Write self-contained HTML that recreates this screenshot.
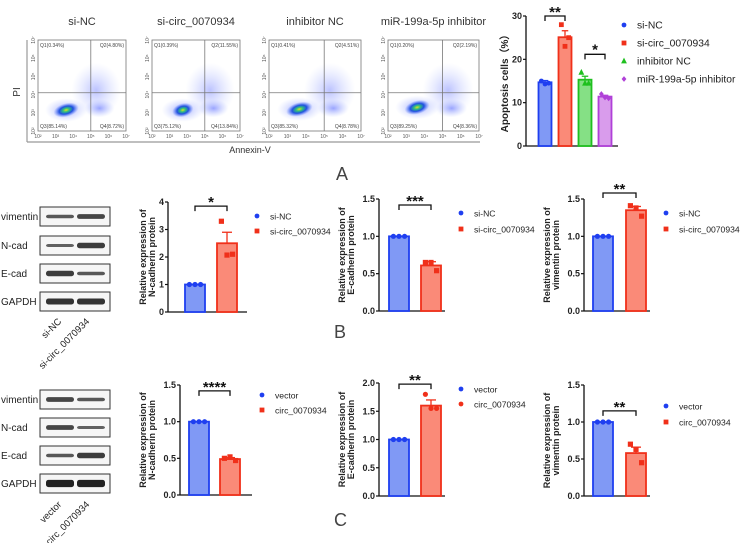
<!DOCTYPE html>
<html><head><meta charset="utf-8">
<style>
html,body{margin:0;padding:0;background:#fff;}
svg{display:block;font-family:"Liberation Sans",Arial,sans-serif;}
.tk{font-size:9px;font-weight:bold;fill:#222;}
.yt{font-size:9px;font-weight:bold;fill:#222;}
.lg{font-size:8.6px;fill:#222;}
.lga{font-size:10.3px;fill:#222;}
.ft{font-size:11px;fill:#333;}
.wb{font-size:10px;fill:#222;}
.pl{font-size:18px;fill:#444;font-weight:300;}
</style></head>
<body>
<svg id="fig" width="742" height="543" viewBox="0 0 742 543">
<defs>
<radialGradient id="blob" cx="50%" cy="50%" r="50%">
<stop offset="0" stop-color="#e0e020"/><stop offset="0.25" stop-color="#30c080"/><stop offset="0.55" stop-color="#2050e0"/><stop offset="1" stop-color="#6080ff" stop-opacity="0"/>
</radialGradient>
<radialGradient id="halo" cx="50%" cy="50%" r="50%">
<stop offset="0" stop-color="#6070ff" stop-opacity="0.6"/><stop offset="1" stop-color="#a0b0ff" stop-opacity="0"/>
</radialGradient>
</defs>
<g id="flow"></g>
<g id="blots"></g>
<g id="charts"></g>
<text class="pl" x="336" y="180">A</text>
<text class="pl" x="334" y="338">B</text>
<text class="pl" x="334" y="526">C</text>
</svg>
<script>
// ---- data ----
const apoCategories = ["si-NC","si-circ_0070934","inhibitor NC","miR-199a-5p inhibitor"];
const apoMeans = [14.7, 25.1, 15.3, 11.4];
const apoErrors = [0.4, 1.5, 0.8, 0.3];
const apoPoints = [[15.0,14.3,14.5],[28.0,23.0,25.0],[17.0,14.5,14.5],[12.0,11.2,11.0]];
const apoTicks = [0,10,20,30];

const bNcadMeans = [1.0, 2.5];
const bNcadErrors = [0.0, 0.4];
const bNcadPoints = [[1.0,1.0,1.0],[3.3,2.07,2.1]];
const bNcadTicks = [0,1,2,3,4];

const bEcadMeans = [1.0, 0.61];
const bEcadErrors = [0.0, 0.05];
const bEcadPoints = [[1.0,1.0,1.0],[0.65,0.65,0.54]];
const bEcadTicks = [0.0,0.5,1.0,1.5];

const bVimMeans = [1.0, 1.35];
const bVimErrors = [0.0, 0.05];
const bVimPoints = [[1.0,1.0,1.0],[1.41,1.38,1.27]];
const bVimTicks = [0.0,0.5,1.0,1.5];

const cNcadMeans = [1.0, 0.49];
const cNcadErrors = [0.0, 0.02];
const cNcadPoints = [[1.0,1.0,1.0],[0.5,0.52,0.47]];
const cNcadTicks = [0.0,0.5,1.0,1.5];

const cEcadMeans = [1.0, 1.6];
const cEcadErrors = [0.0, 0.1];
const cEcadPoints = [[1.0,1.0,1.0],[1.8,1.55,1.55]];
const cEcadTicks = [0.0,0.5,1.0,1.5,2.0];

const cVimMeans = [1.0, 0.58];
const cVimErrors = [0.0, 0.08];
const cVimPoints = [[1.0,1.0,1.0],[0.7,0.63,0.45]];
const cVimTicks = [0.0,0.5,1.0,1.5];

const flowTitles = ["si-NC","si-circ_0070934","inhibitor NC","miR-199a-5p inhibitor"];
const flowQ1 = ["Q1(0.34%)","Q1(0.39%)","Q1(0.41%)","Q1(0.20%)"];
const flowQ2 = ["Q2(4.80%)","Q2(11.55%)","Q2(4.51%)","Q2(2.19%)"];
const flowQ3 = ["Q3(85.14%)","Q3(75.12%)","Q3(85.32%)","Q3(89.25%)"];
const flowQ4 = ["Q4(8.72%)","Q4(13.84%)","Q4(8.78%)","Q4(8.36%)"];
const blotRows = ["vimentin","N-cad","E-cad","GAPDH"];

// ---- helpers ----
const NS="http://www.w3.org/2000/svg";
function mk(parent,tag,attrs,text){const e=document.createElementNS(NS,tag);for(const k in attrs)e.setAttribute(k,attrs[k]);if(text!==undefined)e.textContent=text;parent.appendChild(e);return e;}
const COL={blue:["#8099f5","#1f3ff0"],red:["#fa8a78","#f0301a"],green:["#85e085","#1fc01f"],purple:["#d99cec","#b040d8"]};

function marker(g,shape,x,y,c,s){
  if(shape==="circle") return mk(g,"circle",{cx:x,cy:y,r:s,fill:c});
  if(shape==="square") return mk(g,"rect",{x:x-s,y:y-s,width:2*s,height:2*s,fill:c});
  if(shape==="tri") return mk(g,"polygon",{points:`${x},${y-s-1} ${x-s-0.5},${y+s} ${x+s+0.5},${y+s}`,fill:c});
  if(shape==="diamond") return mk(g,"polygon",{points:`${x},${y-s-0.5} ${x+s},${y} ${x},${y+s+0.5} ${x-s},${y}`,fill:c});
}

function barChart(o){
  const root=document.getElementById("charts");
  const g=mk(root,"g",{});
  
  
  const tmax=o.ticks[o.ticks.length-1];
  const yS=v=>o.y0-(v/tmax)*(o.y0-o.yTop);
  const ax=mk(g,"line",{x1:o.ax,y1:o.yTop,x2:o.ax,y2:o.y0+0.5,stroke:"#111","stroke-width":1.3});
  
  
  const bl=mk(g,"line",{x1:o.ax,y1:o.y0,x2:o.axEnd,y2:o.y0,stroke:"#111","stroke-width":1.3});
  
  
  o.ticks.forEach(t=>{
    const y=yS(t);
    mk(g,"line",{x1:o.ax-3,y1:y,x2:o.ax,y2:y,stroke:"#111","stroke-width":1.2});
    const tl=mk(g,"text",{x:o.ax-4,y:y+3,"text-anchor":"end",class:"tk"},o.fmt?t.toFixed(1):String(t));
    
    
  });
  const tt=mk(g,"text",{transform:`translate(${o.tx},${(o.yTop+o.y0)/2}) rotate(-90)`,"text-anchor":"middle",class:"yt"});
  if(o.tfs) tt.setAttribute("style","font-size:"+o.tfs+"px");
  
  
  o.title.forEach((ln,i)=>mk(tt,"tspan",{x:0,dy:i===0?0:9},ln));
  o.means.forEach((m,i)=>{
    const cx=o.bx[i], [f,s]=COL[o.colors[i]];
    const top=yS(m);
    const b=mk(g,"rect",{x:cx-o.bw/2,y:top,width:o.bw,height:o.y0-top,fill:f,stroke:s,"stroke-width":1.8});
    
    
    const e=o.errs[i];
    if(e>0){
      const ey=yS(m+e);
      mk(g,"line",{x1:cx,y1:top,x2:cx,y2:ey,stroke:s,"stroke-width":1.3});
      mk(g,"line",{x1:cx-o.bw/4,y1:ey,x2:cx+o.bw/4,y2:ey,stroke:s,"stroke-width":1.3});
    }
    o.pts[i].forEach((p,j)=>{
      const pm=marker(g,o.shapes[i],cx+(j-1)*o.bw*0.28,yS(p),s,o.ms||2.6);
      
      
    });
  });
  const [a,b2]=o.sig.pair;
  const by=yS(o.sig.level);
  const br=mk(g,"path",{d:`M${o.bx[a]},${by+5} V${by} H${o.bx[b2]} V${by+5}`,fill:"none",stroke:"#111","stroke-width":1.3});
  
  
  const st=mk(g,"text",{x:(o.bx[a]+o.bx[b2])/2,y:by+1,"text-anchor":"middle","font-size":"15px","font-weight":"bold",fill:"#111"},o.sig.label);
  
  
  o.cats.forEach((c,i)=>{
    const ly=o.ly[i];
    const lg=mk(g,"g",{});
    
    
    marker(lg,o.shapes[i],o.lx,ly,COL[o.colors[i]][1],2.4);
    mk(lg,"text",{x:o.lx+13,y:ly+3.5,class:o.lcls||"lg"},c);
  });
}

barChart({name:"apoptosis-chart",cats:apoCategories,means:apoMeans,errs:apoErrors,pts:apoPoints,ticks:apoTicks,
 ax:526,axEnd:618,yTop:16,y0:146,bx:[545,565,585,605],bw:13,colors:["blue","red","green","purple"],
 shapes:["circle","square","tri","diamond"],title:["Apoptosis cells（%）"],tx:508,tfs:10,
 sig:{pair:[0,1],level:30,label:"**"},lx:624,ly:[25,43,61,79],ms:2.4,lcls:"lga"});
(function(){
  const tmax=apoTicks[apoTicks.length-1];
  const yS=v=>146-(v/tmax)*(146-16);
  const g=document.getElementById("charts");
  const by=yS(20);
  const p=mk(g,"path",{d:`M585,${by} V${by-5} H605 V${by}`,fill:"none",stroke:"#111","stroke-width":1.3});
  
  
  const t=mk(g,"text",{x:595,y:by-5,"text-anchor":"middle","font-size":"15px","font-weight":"bold",fill:"#111"},"*");
  
  
})();

const bCats=["si-NC","si-circ_0070934"], cCats=["vector","circ_0070934"];
barChart({name:"b-ncadherin-chart",cats:bCats,means:bNcadMeans,errs:bNcadErrors,pts:bNcadPoints,ticks:bNcadTicks,
 ax:168,axEnd:247,yTop:202,y0:312,bx:[195,227],bw:20,colors:["blue","red"],shapes:["circle","square"],
 title:["Relative expression of","N-cadherin protein"],tx:146,sig:{pair:[0,1],level:3.85,label:"*"},lx:257,ly:[216,231]});
barChart({name:"b-ecadherin-chart",cats:bCats,means:bEcadMeans,errs:bEcadErrors,pts:bEcadPoints,ticks:bEcadTicks,fmt:1,
 ax:379,axEnd:445,yTop:199,y0:311,bx:[399,431],bw:20,colors:["blue","red"],shapes:["circle","square"],
 title:["Relative expression of","E-cadherin protein"],tx:345,sig:{pair:[0,1],level:1.42,label:"***"},lx:461,ly:[213,229]});
barChart({name:"b-vimentin-chart",cats:bCats,means:bVimMeans,errs:bVimErrors,pts:bVimPoints,ticks:bVimTicks,fmt:1,
 ax:584,axEnd:650,yTop:199,y0:311,bx:[603,636],bw:20,colors:["blue","red"],shapes:["circle","square"],
 title:["Relative expression of","vimentin protein"],tx:550,sig:{pair:[0,1],level:1.58,label:"**"},lx:666,ly:[213,229]});
barChart({name:"c-ncadherin-chart",cats:cCats,means:cNcadMeans,errs:cNcadErrors,pts:cNcadPoints,ticks:cNcadTicks,fmt:1,
 ax:180,axEnd:252,yTop:385,y0:495,bx:[199,230],bw:20,colors:["blue","red"],shapes:["circle","square"],
 title:["Relative expression of","N-cadherin protein"],tx:146,sig:{pair:[0,1],level:1.42,label:"****"},lx:262,ly:[395,410]});
barChart({name:"c-ecadherin-chart",cats:cCats,means:cEcadMeans,errs:cEcadErrors,pts:cEcadPoints,ticks:cEcadTicks,fmt:1,
 ax:379,axEnd:445,yTop:383,y0:496,bx:[399,431],bw:20,colors:["blue","red"],shapes:["circle","circle"],
 title:["Relative expression of","E-cadherin protein"],tx:345,sig:{pair:[0,1],level:1.98,label:"**"},lx:461,ly:[389,404]});
barChart({name:"c-vimentin-chart",cats:cCats,means:cVimMeans,errs:cVimErrors,pts:cVimPoints,ticks:cVimTicks,fmt:1,
 ax:584,axEnd:650,yTop:385,y0:496,bx:[603,636],bw:20,colors:["blue","red"],shapes:["circle","square"],
 title:["Relative expression of","vimentin protein"],tx:550,sig:{pair:[0,1],level:1.15,label:"**"},lx:666,ly:[406,422]});

// ---- flow cytometry ----
(function(){
  const g=document.getElementById("flow");
  const boxes=[[38,126],[152,240],[269,361],[388,479]];
  const y1=40,y2=131;
  const blobs=[[0.32,0.77,0.42],[0.35,0.77,0.35],[0.33,0.76,0.42],[0.32,0.74,0.40]];
  boxes.forEach((b,i)=>{
    const [x1,x2]=b,w=x2-x1,h=y2-y1;
    const p=mk(g,"g",{});
    
    
    mk(p,"text",{x:(x1+x2)/2,y:25,"text-anchor":"middle",class:"ft"},flowTitles[i]);
    mk(p,"rect",{x:x1,y:y1,width:w,height:h,fill:"#fff",stroke:"#777","stroke-width":0.8});
    const [bx,by,s]=blobs[i];
    mk(p,"ellipse",{cx:x1+w*0.66,cy:y1+h*0.55,rx:w*0.28,ry:h*0.3,fill:"url(#halo)",opacity:0.7});
    mk(p,"ellipse",{cx:x1+w*0.7,cy:y1+h*0.75,rx:w*0.17,ry:h*0.1,fill:"url(#halo)"});
    mk(p,"ellipse",{cx:x1+w*bx,cy:y1+h*by,rx:w*0.24,ry:h*0.13,fill:"url(#halo)"});
    mk(p,"ellipse",{cx:x1+w*bx,cy:y1+h*by,rx:w*s*0.35,ry:h*0.075,fill:"url(#blob)",transform:`rotate(-15 ${x1+w*bx} ${y1+h*by})`});
    const qx=x1+w*0.6,qy=y1+h*0.58;
    mk(p,"line",{x1:qx,y1:y1,x2:qx,y2:y2,stroke:"#777","stroke-width":0.8});
    mk(p,"line",{x1:x1,y1:qy,x2:x2,y2:qy,stroke:"#777","stroke-width":0.8});
    const fs={"font-size":"5px",fill:"#444"};
    mk(p,"text",Object.assign({x:x1+2,y:y1+7},fs),flowQ1[i]);
    mk(p,"text",Object.assign({x:x2-2,y:y1+7,"text-anchor":"end"},fs),flowQ2[i]);
    mk(p,"text",Object.assign({x:x1+2,y:y2-3},fs),flowQ3[i]);
    mk(p,"text",Object.assign({x:x2-2,y:y2-3,"text-anchor":"end"},fs),flowQ4[i]);
    for(let k=0;k<6;k++){
      mk(p,"text",{x:x1+k*w/5,y:y2+7,"text-anchor":"middle","font-size":"5px",fill:"#555"},"10"+["²","³","⁴","⁵","⁶","⁷"][k]);
      mk(p,"text",{transform:`translate(${x1-3},${y2-k*h/5}) rotate(-90)`,"text-anchor":"middle","font-size":"5px",fill:"#555"},"10"+["²","³","⁴","⁵","⁶","⁷"][k]);
    }
  });
  mk(g,"line",{x1:27,y1:142,x2:480,y2:142,stroke:"#999","stroke-width":1.2});
  mk(g,"line",{x1:27,y1:40,x2:27,y2:142,stroke:"#999","stroke-width":1.2});
  const ax=mk(g,"text",{x:250,y:153,"text-anchor":"middle","font-size":"9px",fill:"#333"},"Annexin-V");
  
  
  const ay=mk(g,"text",{transform:"translate(20,92) rotate(-90)","text-anchor":"middle","font-size":"10px",fill:"#333"},"PI");
  
  
})();

// ---- western blots ----
function blot(rowsY,samples,intens,name,labY){
  const g=mk(document.getElementById("blots"),"g",{});
  
  
  rowsY.forEach((y,i)=>{
    mk(g,"text",{x:1,y:y+13,class:"wb"},blotRows[i]);
    mk(g,"rect",{x:40,y:y,width:70,height:19,fill:"#f6f6f6",stroke:"#333","stroke-width":1});
    intens[i].forEach((t,j)=>{
      const bx=j===0?46:77;
      mk(g,"rect",{x:bx,y:y+9.5-t*3,width:28,height:t*6,rx:2.5,fill:"#111","fill-opacity":0.45+0.4*t});
    });
  });
  samples.forEach((s,j)=>{
    mk(g,"text",{transform:`translate(${j===0?62:90},${labY}) rotate(-45)`,"text-anchor":"end","font-size":"9.5px",fill:"#222"},s);
  });
}
blot([207,236,264,292],["si-NC","si-circ_0070934"],[[0.6,0.8],[0.5,0.9],[0.9,0.6],[1,1]],"b-western-blot",322);
blot([390,418,446,474],["vector","circ_0070934"],[[0.8,0.6],[0.8,0.5],[0.6,0.9],[1.2,1.2]],"c-western-blot",505);
</script>
</body></html>
